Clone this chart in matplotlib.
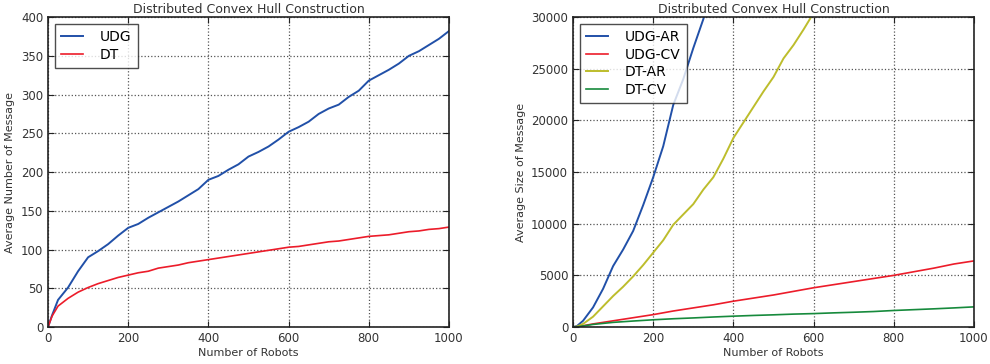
import numpy as np
import matplotlib
matplotlib.use('Agg')
import matplotlib.pyplot as plt

# left panel: average number of messages
robots_l = [0, 10, 25, 50, 75, 100, 125, 150, 175, 200, 225, 250, 275, 300, 325, 350,
            375, 400, 425, 450, 475, 500, 525, 550, 575, 600, 625, 650, 675, 700, 725,
            750, 775, 800, 825, 850, 875, 900, 925, 950, 975, 1000]
udg_msgs = [0, 15, 35, 51, 72, 90, 98, 107, 118, 128, 133, 141, 148, 155, 162, 170,
            178, 190, 195, 203, 210, 220, 226, 233, 242, 252, 258, 265, 275, 282, 287,
            297, 305, 318, 325, 332, 340, 350, 356, 364, 372, 382]
dt_msgs = [0, 14, 27, 37, 45, 51, 56, 60, 64, 67, 70, 72, 76, 78, 80, 83,
           85, 87, 89, 91, 93, 95, 97, 99, 101, 103, 104, 106, 108, 110, 111,
           113, 115, 117, 118, 119, 121, 123, 124, 126, 127, 129]

# right panel: average message size
robots_udg_ar = [0, 10, 25, 50, 75, 100, 125, 150, 175, 200, 225, 250, 275, 300, 325, 350]
udg_ar = [0, 100, 600, 1900, 3700, 5900, 7500, 9300, 11800, 14500, 17500, 21500,
          24000, 27000, 29800, 33000]
robots_dt_ar = [0, 10, 25, 50, 75, 100, 125, 150, 175, 200, 225, 250, 275, 300, 325,
                350, 375, 400, 425, 450, 475, 500, 525, 550, 575, 600, 625]
dt_ar = [0, 50, 300, 1000, 2000, 3000, 3900, 4900, 6000, 7200, 8400, 9900, 10900,
         11900, 13300, 14500, 16300, 18300, 19800, 21300, 22800, 24200, 26000, 27300,
         28800, 30400, 32000]
robots_cv = [0, 10, 25, 50, 75, 100, 150, 200, 250, 300, 350, 400, 450, 500, 550, 600,
             650, 700, 750, 800, 850, 900, 950, 1000]
udg_cv = [0, 30, 120, 300, 450, 600, 900, 1200, 1550, 1850, 2150, 2500, 2800, 3100,
          3450, 3800, 4100, 4400, 4700, 5000, 5350, 5700, 6100, 6400]
dt_cv = [0, 20, 100, 250, 350, 450, 580, 700, 800, 880, 970, 1050, 1120, 1180, 1250,
         1300, 1370, 1430, 1500, 1600, 1680, 1760, 1850, 1950]

c_blue = '#2150a8'
c_red = '#ec1c2a'
c_yellow = '#bdbd2c'
c_green = '#168a3c'

plt.rcParams['font.family'] = 'DejaVu Sans'

fig = plt.figure(figsize=(9.9, 3.64), dpi=100)
ax1 = fig.add_axes([0.0485, 0.1016, 0.405, 0.8514])
ax2 = fig.add_axes([0.5788, 0.1016, 0.405, 0.8514])


def style_axes(ax):
    ax.grid(True, linestyle=':', color='#555555', linewidth=0.9)
    ax.tick_params(direction='in', top=True, right=True, labelsize=8.5,
                   length=4, color='#222222', labelcolor='#333333')
    for s in ax.spines.values():
        s.set_color('#222222')
        s.set_linewidth(1.2)
    ax.set_xlim(0, 1000)
    ax.set_xticks([0, 200, 400, 600, 800, 1000])


def style_legend(ax):
    leg = ax.legend(loc='upper left', fontsize=10, fancybox=False, handlelength=1.6,
                    handletextpad=1.2, borderpad=0.45, labelspacing=0.25)
    leg.get_frame().set_edgecolor('#222222')
    leg.get_frame().set_linewidth(1.0)
    return leg


ax1.plot(robots_l, udg_msgs, color=c_blue, lw=1.4, label='UDG')
ax1.plot(robots_l, dt_msgs, color=c_red, lw=1.2, label='DT')
style_axes(ax1)
ax1.set_ylim(0, 400)
ax1.set_yticks(range(0, 401, 50))
ax1.set_title('Distributed Convex Hull Construction', fontsize=9, color='#333333', pad=3)
ax1.set_xlabel('Number of Robots', fontsize=8, color='#333333', labelpad=2)
ax1.set_ylabel('Average Number of Message', fontsize=8, color='#333333')
style_legend(ax1)

ax2.plot(robots_udg_ar, udg_ar, color=c_blue, lw=1.4, label='UDG-AR')
ax2.plot(robots_cv, udg_cv, color=c_red, lw=1.2, label='UDG-CV')
ax2.plot(robots_dt_ar, dt_ar, color=c_yellow, lw=1.4, label='DT-AR')
ax2.plot(robots_cv, dt_cv, color=c_green, lw=1.2, label='DT-CV')
style_axes(ax2)
ax2.set_ylim(0, 30000)
ax2.set_yticks(range(0, 30001, 5000))
ax2.set_title('Distributed Convex Hull Construction', fontsize=9, color='#333333', pad=3)
ax2.set_xlabel('Number of Robots', fontsize=8, color='#333333', labelpad=2)
ax2.set_ylabel('Average Size of Message', fontsize=8, color='#333333')
style_legend(ax2)

fig.savefig('out.png', dpi=100)
